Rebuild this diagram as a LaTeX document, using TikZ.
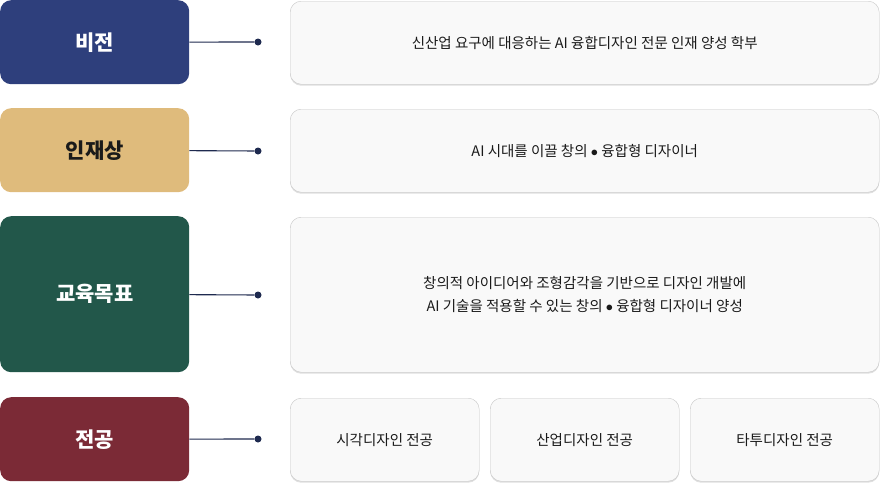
\documentclass[tikz,border=0pt]{standalone}
\usepackage{fontspec}
\setmainfont{Noto Sans CJK KR}
\usepackage{xcolor}
\usetikzlibrary{positioning,shadows}
\definecolor{navyC}{HTML}{2E3F7C}
\definecolor{tanC}{HTML}{DFBB7C}
\definecolor{greenC}{HTML}{22574A}
\definecolor{wineC}{HTML}{7B2A36}
\definecolor{dotC}{HTML}{1E2A4F}
\definecolor{textC}{HTML}{1A1A1A}
\tikzset{
  head/.style={rounded corners=11pt, inner sep=0pt, font=\bfseries\fontsize{21}{24}\selectfont},
  panel/.style={draw=gray!45, fill=gray!5, rounded corners=11pt, inner sep=0pt,
    drop shadow={shadow xshift=0pt, shadow yshift=-1.5pt, opacity=0.25},
    text=textC, align=center, font=\fontsize{14.5}{23}\selectfont},
  link/.style={dotC, line width=1.1pt},
  dot/.style={circle, fill=dotC, inner sep=0pt, minimum size=7pt}
}
\begin{document}
\begin{tikzpicture}[x=1pt,y=-1pt]
  \useasboundingbox (0,0) rectangle (880,482);

  % Vision
  \node[head, fill=navyC, text=white, minimum width=189pt, minimum height=84pt, anchor=north west] (vision) at (0,0) {비전};
  \node[panel, minimum width=589pt, minimum height=83pt, anchor=north west] (visionP) at (290,1) {신산업 요구에 대응하는 AI 융합디자인 전문 인재 양성 학부};
  \node[dot] (visionD) at (258,42) {};
  \draw[link] (vision) -- (visionD);

  % Talent
  \node[head, fill=tanC, text=textC, minimum width=189pt, minimum height=84pt, anchor=north west] (talent) at (0,108) {인재상};
  \node[panel, minimum width=589pt, minimum height=83pt, anchor=north west] (talentP) at (290,109) {AI 시대를 이끌 창의 $\bullet$ 융합형 디자이너};
  \node[dot] (talentD) at (258,151) {};
  \draw[link] (talent) -- (talentD);

  % Goal
  \node[head, fill=greenC, text=white, minimum width=189pt, minimum height=156pt, anchor=north west] (goal) at (0,216) {교육목표};
  \node[panel, minimum width=589pt, minimum height=155pt, anchor=north west] (goalP) at (290,217) {창의적 아이디어와 조형감각을 기반으로 디자인 개발에\\AI 기술을 적용할 수 있는 창의 $\bullet$ 융합형 디자이너 양성};
  \node[dot] (goalD) at (258,295) {};
  \draw[link] (goal) -- (goalD);

  % Major
  \node[head, fill=wineC, text=white, minimum width=189pt, minimum height=84pt, anchor=north west] (major) at (0,397) {전공};
  \node[dot] (majorD) at (258,439) {};
  \draw[link] (major) -- (majorD);
  \foreach \x/\name/\txt in {290/majA/시각디자인 전공, 490/majB/산업디자인 전공, 690/majC/타투디자인 전공}
    \node[panel, minimum width=189pt, minimum height=83pt, anchor=north west] (\name) at (\x,398) {\txt};
\end{tikzpicture}
\end{document}
